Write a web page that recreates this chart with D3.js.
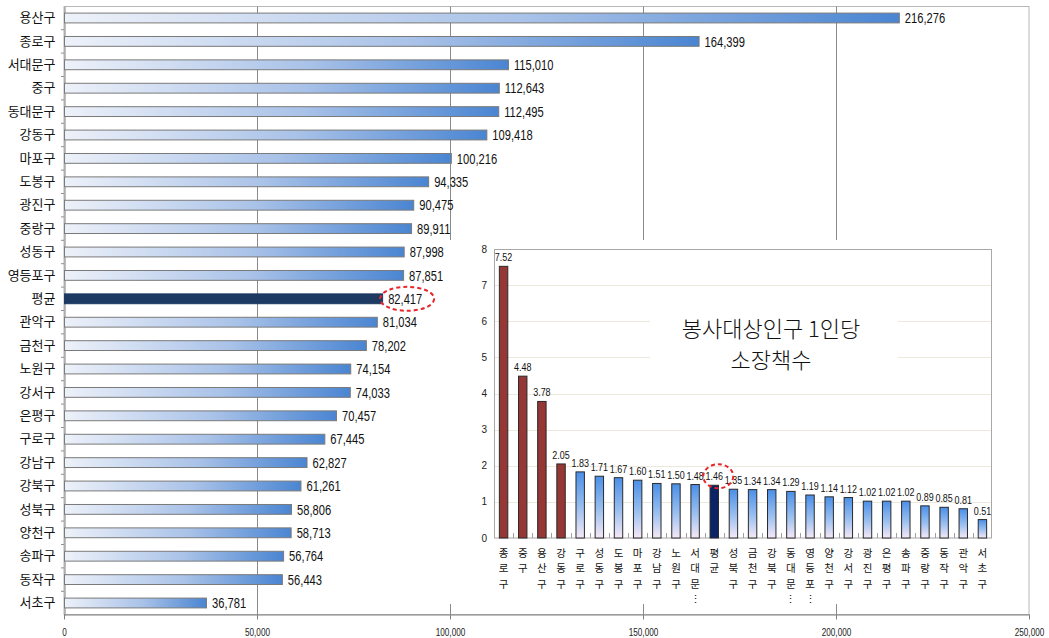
<!DOCTYPE html>
<html>
<head>
<meta charset="utf-8">
<script src="https://cdn.jsdelivr.net/npm/d3@7"></script>
<style>
  body { margin: 0; background: #fff; }
  text { font-family: "Liberation Sans", Arial, sans-serif; }
  .kr { font-family: "Noto Sans CJK KR", sans-serif; }
</style>
</head>
<body>
<svg id="vis" width="1049" height="638"></svg>
<script>
// main chart: books per district
const mainNames = ["용산구", "종로구", "서대문구", "중구", "동대문구", "강동구", "마포구", "도봉구",
    "광진구", "중랑구", "성동구", "영등포구", "평균", "관악구", "금천구", "노원구", "강서구",
    "은평구", "구로구", "강남구", "강북구", "성북구", "양천구", "송파구", "동작구", "서초구"];
const mainValues = [216276, 164399, 115010, 112643, 112495, 109418, 100216, 94335,
    90475, 89911, 87998, 87851, 82417, 81034, 78202, 74154, 74033,
    70457, 67445, 62827, 61261, 58806, 58713, 56764, 56443, 36781];
const mainTicks = [0, 50000, 100000, 150000, 200000, 250000];

// inset chart: books per person of target population
const insetNames = ["종로구", "중구", "용산구", "강동구", "구로구", "성동구", "도봉구", "마포구",
    "강남구", "노원구", "서대문구", "평균", "성북구", "금천구", "강북구", "동대문구", "영등포구",
    "양천구", "강서구", "광진구", "은평구", "송파구", "중랑구", "동작구", "관악구", "서초구"];
const insetValues = [7.52, 4.48, 3.78, 2.05, 1.83, 1.71, 1.67, 1.60,
    1.51, 1.50, 1.48, 1.46, 1.35, 1.34, 1.34, 1.29, 1.19,
    1.14, 1.12, 1.02, 1.02, 1.02, 0.89, 0.85, 0.81, 0.51];
const insetRed = ["종로구", "중구", "용산구", "강동구"];
const insetTicks = [0, 1, 2, 3, 4, 5, 6, 7, 8];
const avgName = "평균";
const insetTitle = ["봉사대상인구 1인당", "소장책수"];

const svg = d3.select("#vis");
const fmt = d3.format(",");

// narrow-looking numbers: squeeze the text horizontally around its anchor
function squeeze(sel, fx, fy, k) {
    sel.attr("transform", (d, i) => `translate(${fx(d, i)},${fy(d, i)}) scale(${k},1)`);
}

// gradients
const defs = svg.append("defs");
const hGrad = defs.append("linearGradient").attr("id", "hgrad")
    .attr("x1", 0).attr("x2", 1).attr("y1", 0).attr("y2", 0);
hGrad.append("stop").attr("offset", "0%").attr("stop-color", "#edf1f9");
hGrad.append("stop").attr("offset", "55%").attr("stop-color", "#a9c2e8");
hGrad.append("stop").attr("offset", "100%").attr("stop-color", "#4a85d2");
const vGrad = defs.append("linearGradient").attr("id", "vgrad")
    .attr("x1", 0).attr("x2", 0).attr("y1", 0).attr("y2", 1);
vGrad.append("stop").attr("offset", "0%").attr("stop-color", "#4a8fe8");
vGrad.append("stop").attr("offset", "55%").attr("stop-color", "#9cc0f0");
vGrad.append("stop").attr("offset", "100%").attr("stop-color", "#f6e8f6");

// ---------- main horizontal bar chart ----------
const x = d3.scaleLinear().domain([0, 250000]).range([64, 1029]);
const y = d3.scaleBand().domain(mainNames).range([6.3, 614.7])
    .paddingInner(0.58).paddingOuter(0.29);

// plot frame
svg.append("rect")
    .attr("x", x(0)).attr("y", 6.5)
    .attr("width", x(250000) - x(0)).attr("height", 614.5 - 6.5)
    .attr("fill", "none").attr("stroke", "#b8b8b8");

// vertical grid
svg.append("g").selectAll("line")
    .data(mainTicks.slice(1, -1))
    .join("line")
    .attr("x1", d => Math.round(x(d)) + 0.5).attr("x2", d => Math.round(x(d)) + 0.5)
    .attr("y1", 6.5).attr("y2", 614.5)
    .attr("stroke", "#8a8a8a");

// x axis
const xAxis = svg.append("g")
    .attr("transform", "translate(0,614.5)")
    .call(d3.axisBottom(x).tickValues(mainTicks).tickFormat(fmt).tickSize(5).tickSizeOuter(0));
xAxis.select(".domain").attr("stroke", "#808080");
xAxis.selectAll(".tick line").attr("stroke", "#808080");
xAxis.selectAll("text").attr("fill", "#222").style("font-size", "10px")
    .attr("y", 0).attr("dy", 0)
    .attr("transform", "translate(0,21) scale(0.82,1)");

// y axis
const yAxis = svg.append("g")
    .attr("transform", "translate(64.5,0)")
    .call(d3.axisLeft(y).tickSize(0).tickPadding(9));
yAxis.select(".domain").attr("stroke", "#808080");
yAxis.selectAll("text").attr("class", "kr").style("font-size", "13px").attr("fill", "#111");

// small ticks between categories
svg.append("g").selectAll("line")
    .data(mainNames.slice(1))
    .join("line")
    .attr("x1", 61).attr("x2", 64)
    .attr("y1", d => y(d) - y.step() * y.paddingInner() / 2)
    .attr("y2", d => y(d) - y.step() * y.paddingInner() / 2)
    .attr("stroke", "#909090");

// bars
svg.append("g").selectAll("rect")
    .data(mainNames)
    .join("rect")
    .attr("x", x(0) + 0.5)
    .attr("y", d => y(d))
    .attr("width", (d, i) => x(mainValues[i]) - x(0))
    .attr("height", y.bandwidth())
    .attr("fill", d => d === avgName ? "#1c3a62" : "url(#hgrad)")
    .attr("stroke", d => d === avgName ? "#1c3a62" : "#7a7a7a")
    .attr("stroke-width", 1);

// value labels
svg.append("g").selectAll("text")
    .data(mainNames)
    .join("text")
    .attr("dy", "0.36em")
    .style("font-size", "14.5px")
    .attr("fill", "#111")
    .text((d, i) => fmt(mainValues[i]))
    .call(squeeze, (d, i) => x(mainValues[i]) + 6, d => y(d) + y.bandwidth() / 2, 0.77);

// highlight around the average value
const avgIdx = mainNames.indexOf(avgName);
svg.append("ellipse")
    .attr("cx", x(mainValues[avgIdx]) + 25)
    .attr("cy", y(avgName) + y.bandwidth() / 2)
    .attr("rx", 27).attr("ry", 12)
    .attr("fill", "none").attr("stroke", "#e8262a")
    .attr("stroke-width", 2).attr("stroke-dasharray", "4,3");

// ---------- inset column chart ----------
const inset = svg.append("g");
inset.append("rect")
    .attr("x", 446).attr("y", 240)
    .attr("width", 1028 - 446).attr("height", 604 - 240)
    .attr("fill", "#fff");

const xi = d3.scaleBand().domain(insetNames).range([494, 992])
    .paddingInner(0.56).paddingOuter(0.28);
const yi = d3.scaleLinear().domain([0, 8]).range([538, 249]);

// horizontal grid
inset.append("g").selectAll("line")
    .data(insetTicks.slice(1, -1))
    .join("line")
    .attr("x1", 494).attr("x2", 992)
    .attr("y1", d => Math.round(yi(d)) + 0.5).attr("y2", d => Math.round(yi(d)) + 0.5)
    .attr("stroke", "#ece8dc");

// title box covers part of the grid
inset.append("rect")
    .attr("x", 650).attr("y", 300).attr("width", 248).attr("height", 78)
    .attr("fill", "#fff");
inset.append("g").selectAll("text")
    .data(insetTitle)
    .join("text")
    .attr("class", "kr")
    .attr("x", 771)
    .attr("y", (d, i) => 337 + i * 31)
    .attr("text-anchor", "middle")
    .style("font-size", "22px")
    .style("font-weight", 300)
    .attr("fill", "#111")
    .text(d => d);

// frame
inset.append("rect")
    .attr("x", 494.5).attr("y", 249.5)
    .attr("width", 497).attr("height", 538 - 249.5)
    .attr("fill", "none").attr("stroke", "#a8a8a8");

// y axis labels
inset.append("g").selectAll("text")
    .data(insetTicks)
    .join("text")
    .attr("x", 487)
    .attr("y", d => yi(d))
    .attr("dy", "0.35em")
    .attr("text-anchor", "end")
    .style("font-size", "10px")
    .attr("fill", "#222")
    .text(d => d);

// x axis ticks
inset.append("g").selectAll("line")
    .data(insetNames.slice(1))
    .join("line")
    .attr("x1", d => Math.round(xi(d) - xi.step() * xi.paddingInner() / 2) + 0.5)
    .attr("x2", d => Math.round(xi(d) - xi.step() * xi.paddingInner() / 2) + 0.5)
    .attr("y1", 533).attr("y2", 538)
    .attr("stroke", "#a0a0a0");

// bars
inset.append("g").selectAll("rect")
    .data(insetNames)
    .join("rect")
    .attr("x", d => xi(d))
    .attr("y", (d, i) => yi(insetValues[i]))
    .attr("width", xi.bandwidth())
    .attr("height", (d, i) => yi(0) - yi(insetValues[i]))
    .attr("fill", d => insetRed.includes(d) ? "#953735" : d === avgName ? "#0b2466" : "url(#vgrad)")
    .attr("stroke", "#2a2a2a")
    .attr("stroke-width", 1);

// value labels
inset.append("g").selectAll("text")
    .data(insetNames)
    .join("text")
    .attr("text-anchor", "middle")
    .style("font-size", "11.5px")
    .attr("fill", "#111")
    .text((d, i) => insetValues[i].toFixed(2))
    .call(squeeze, d => xi(d) + xi.bandwidth() / 2, (d, i) => yi(insetValues[i]) - 5, 0.78);

// vertical category labels, one syllable per row
inset.append("g").selectAll("text")
    .data(insetNames)
    .join("text")
    .attr("class", "kr")
    .attr("text-anchor", "middle")
    .style("font-size", "10.5px")
    .attr("fill", "#111")
    .each(function (d) {
        const chars = d.length > 3 ? [...d.slice(0, 3), "⋮"] : [...d];
        const cx = xi(d) + xi.bandwidth() / 2;
        d3.select(this).selectAll("tspan")
            .data(chars)
            .join("tspan")
            .attr("x", cx)
            .attr("y", (c, i) => 557 + i * 15.3)
            .text(c => c);
    });

// highlight around the inset average
const avgI = insetNames.indexOf(avgName);
inset.append("ellipse")
    .attr("cx", xi(avgName) + xi.bandwidth() / 2 + 4)
    .attr("cy", yi(insetValues[avgI]) - 9)
    .attr("rx", 15).attr("ry", 12)
    .attr("fill", "none").attr("stroke", "#e8262a")
    .attr("stroke-width", 2).attr("stroke-dasharray", "4,3");
</script>
</body>
</html>
